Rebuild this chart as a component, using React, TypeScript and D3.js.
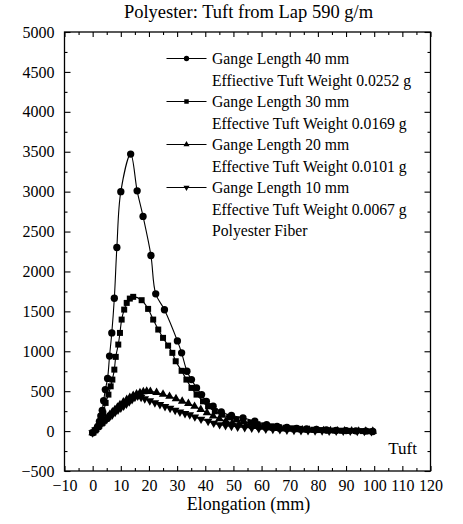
import React, { useEffect, useRef } from 'react';
import * as d3 from 'd3';

type Pt = [number, number];

// elongation (mm), force
const gl40: Pt[] = [
  [0, -20], [1, 15], [1.8, 60], [2.4, 120], [2.9, 190], [3.4, 260], [3.9, 380], [4.5, 520],
  [5.3, 660], [6.0, 940], [6.8, 1230], [7.7, 1664], [8.6, 2300], [10.0, 3000], [13.5, 3470],
  [15.8, 3010], [17.9, 2690], [20.7, 2200], [22.4, 1720], [25.5, 1520], [30.1, 1130],
  [31.6, 980], [33.5, 750], [35.1, 645], [36.9, 541], [38.7, 457], [40.4, 373], [42.8, 311],
  [45.7, 240], [49.3, 195], [53.4, 165], [57.6, 123], [61.8, 81], [65.5, 60], [69, 45],
  [72.5, 35], [76, 27], [79.5, 20], [83, 14], [86.5, 10], [90, 6], [93.5, 3], [97, 0], [99.5, -5],
];

const gl30: Pt[] = [
  [0, -20], [1, 10], [2, 50], [3, 120], [3.8, 220], [4.6, 353], [5.6, 457], [6.4, 561],
  [7.0, 645], [7.7, 770], [8.2, 930], [9.1, 1084], [9.7, 1230], [10.3, 1397], [11.2, 1522],
  [12.1, 1606], [13.2, 1660], [14.4, 1682], [17.4, 1640], [19.7, 1531], [21.5, 1397],
  [23.3, 1272], [25.0, 1168], [26.8, 1071], [28.3, 980], [29.5, 875], [31.6, 755], [33.3, 645],
  [35.1, 541], [36.9, 457], [39.2, 373], [41.0, 311], [43.4, 248], [46, 205], [48.5, 172],
  [51, 145], [53.5, 122], [56, 102], [58.5, 86], [61, 72], [63.5, 60], [66, 50], [68.5, 42],
  [71, 35], [73.5, 28], [76, 22], [78.5, 17], [81, 13], [83.5, 10], [86, 7], [88.5, 5],
  [91, 3], [93.5, 1], [96, 0], [98.5, -3],
];

const gl20: Pt[] = [
  [0, -20], [1, 20], [2, 60], [3.2, 100], [4.4, 144], [5.3, 175], [6.1, 207], [7, 240],
  [7.9, 269], [8.8, 300], [9.7, 332], [10.9, 365], [12.1, 395], [13.2, 420], [14.4, 445],
  [15.6, 465], [16.8, 480], [18, 492], [19.2, 500], [20.5, 497], [22.7, 484], [25, 462],
  [27.3, 435], [29.6, 405], [31.8, 375], [34, 345], [36.2, 310], [38.4, 270], [40.6, 230],
  [42.8, 190], [45, 155], [47.3, 125], [49.6, 102], [52, 85], [54.5, 70], [57, 58], [59.5, 48],
  [62, 40], [64.5, 33], [67, 27], [69.5, 22], [72, 18], [74.5, 14], [77, 11], [79.5, 8],
  [82, 6], [84.5, 4], [87, 3], [89.5, 2], [92, 1], [94.5, 0], [97, 0], [99.5, -3],
];

const gl10: Pt[] = [
  [0, -20], [1, 15], [2, 45], [3, 80], [4, 110], [5, 145], [6, 175], [7, 205], [8, 235],
  [9, 265], [10, 290], [11, 315], [12, 340], [13, 368], [14, 395], [15, 425], [16, 440],
  [17.2, 425], [18.5, 405], [20.3, 380], [22.1, 355], [23.9, 333], [25.7, 308], [27.5, 285],
  [29.3, 260], [31, 238], [32.8, 220], [34.5, 205], [36.3, 178], [38.5, 150], [41, 123],
  [43, 100], [45.1, 81], [47.2, 70], [49.3, 60], [51.5, 52], [54, 45], [56.5, 38], [59, 32],
  [61.5, 27], [64, 22], [66.5, 18], [69, 14], [71.5, 11], [74, 8], [76.5, 6], [79, 4],
  [81.5, 3], [84, 2], [86.5, 1], [89, 0], [91.5, 0], [94, -2], [96.5, -3], [99, -5],
];

const legendLabels = [
  ['Gange Length 40 mm', 'Effiective Tuft Weight 0.0252 g'],
  ['Gange Length 30 mm', 'Effective Tuft Weight 0.0169 g'],
  ['Gange Length 20 mm', 'Effective Tuft Weight 0.0101 g'],
  ['Gange Length 10 mm', 'Effective Tuft Weight 0.0067 g'],
];

const xMajor = d3.range(-10, 121, 10);
const xMinor = d3.range(-5, 120, 10);
const yMajor = d3.range(-500, 5001, 500);
const yMinor = d3.range(-250, 5000, 500);

const W = 463;
const H = 524;
const FONT = '"Liberation Serif", "Times New Roman", serif';

const App: React.FC = () => {
  const svgRef = useRef<SVGSVGElement>(null);

  useEffect(() => {
    if (!svgRef.current) return;
    const svg = d3.select(svgRef.current);
    svg.selectAll('*').remove();

    const left = 64.5, right = 430.5, top = 32, bottom = 471;

    const x = d3.scaleLinear().domain([-10, 120]).range([left, right]);
    const y = d3.scaleLinear().domain([-500, 5000]).range([bottom, top]);
    const fmt = d3.format('d');

    // title
    svg.append('text')
      .attr('x', (left + right) / 2 + 1).attr('y', 18)
      .attr('text-anchor', 'middle')
      .attr('font-family', FONT).attr('font-size', '18.5px')
      .text('Polyester: Tuft from Lap 590 g/m');

    // inward ticks on all sides
    const styleAxis = (g: d3.Selection<SVGGElement, unknown, null, undefined>) => {
      g.select('.domain').remove();
      g.selectAll('line').attr('stroke', '#000').attr('stroke-width', 1.1);
      g.selectAll('text').attr('fill', '#000');
      g.attr('font-family', FONT).attr('font-size', '16px');
    };

    svg.append('g').attr('transform', `translate(${left},0)`)
      .call(d3.axisLeft(y).tickValues(yMajor).tickSize(-6).tickPadding(10).tickFormat(d => fmt(d as number)))
      .call(styleAxis);
    svg.append('g').attr('transform', `translate(${left},0)`)
      .call(d3.axisLeft(y).tickValues(yMinor).tickSize(-3).tickFormat(() => ''))
      .call(styleAxis);
    svg.append('g').attr('transform', `translate(${right},0)`)
      .call(d3.axisRight(y).tickValues(yMajor).tickSize(-6).tickFormat(() => ''))
      .call(styleAxis);
    svg.append('g').attr('transform', `translate(${right},0)`)
      .call(d3.axisRight(y).tickValues(yMinor).tickSize(-3).tickFormat(() => ''))
      .call(styleAxis);

    svg.append('g').attr('transform', `translate(0,${bottom})`)
      .call(d3.axisBottom(x).tickValues(xMajor).tickSize(-5).tickPadding(9).tickFormat(d => fmt(d as number)))
      .call(styleAxis);
    svg.append('g').attr('transform', `translate(0,${bottom})`)
      .call(d3.axisBottom(x).tickValues(xMinor).tickSize(-3).tickFormat(() => ''))
      .call(styleAxis);
    svg.append('g').attr('transform', `translate(0,${top})`)
      .call(d3.axisTop(x).tickValues(xMajor).tickSize(-5).tickFormat(() => ''))
      .call(styleAxis);
    svg.append('g').attr('transform', `translate(0,${top})`)
      .call(d3.axisTop(x).tickValues(xMinor).tickSize(-3).tickFormat(() => ''))
      .call(styleAxis);

    // frame
    svg.append('rect')
      .attr('x', left).attr('y', top)
      .attr('width', right - left).attr('height', bottom - top)
      .attr('fill', 'none').attr('stroke', '#000').attr('stroke-width', 1.3);

    // axis title
    svg.append('text')
      .attr('x', (left + right) / 2 + 1).attr('y', 510)
      .attr('text-anchor', 'middle')
      .attr('font-family', FONT).attr('font-size', '18px')
      .text('Elongation (mm)');

    svg.append('text')
      .attr('x', 417).attr('y', 454)
      .attr('text-anchor', 'end')
      .attr('font-family', FONT).attr('font-size', '17px')
      .text('Tuft');

    const line = d3.line<Pt>()
      .x(d => x(d[0]))
      .y(d => y(d[1]))
      .curve(d3.curveCatmullRom.alpha(0.5));

    const series = [
      { data: gl40, symbol: d3.symbolCircle, size: 42, rotate: 0 },
      { data: gl30, symbol: d3.symbolSquare, size: 36, rotate: 0 },
      { data: gl20, symbol: d3.symbolTriangle, size: 32, rotate: 0 },
      { data: gl10, symbol: d3.symbolTriangle, size: 32, rotate: 180 },
    ];

    const plot = svg.append('g');
    series.forEach(s => {
      plot.append('path')
        .datum(s.data)
        .attr('fill', 'none')
        .attr('stroke', '#000')
        .attr('stroke-width', 1.1)
        .attr('d', line);
      plot.append('g')
        .selectAll('path')
        .data(s.data)
        .join('path')
        .attr('transform', d => `translate(${x(d[0])},${y(d[1])}) rotate(${s.rotate})`)
        .attr('d', d3.symbol(s.symbol, s.size)())
        .attr('fill', '#000');
    });

    // legend
    const lg = svg.append('g').attr('font-family', FONT).attr('font-size', '15.7px');
    const rowH = 21.5;
    const legendSizes = [22, 20, 16, 16];
    series.forEach((s, i) => {
      const cy = 58.5 + i * 2 * rowH;
      lg.append('line')
        .attr('x1', 166.5).attr('x2', 206.5)
        .attr('y1', cy).attr('y2', cy)
        .attr('stroke', '#000').attr('stroke-width', 1.1);
      lg.append('path')
        .attr('transform', `translate(186.5,${cy}) rotate(${s.rotate})`)
        .attr('d', d3.symbol(s.symbol, legendSizes[i])())
        .attr('fill', '#000');
      lg.append('text').attr('x', 212).attr('y', cy + 5.5).text(legendLabels[i][0]);
      lg.append('text').attr('x', 212).attr('y', cy + rowH + 5.5).text(legendLabels[i][1]);
    });
    lg.append('text').attr('x', 212).attr('y', 58.5 + 8 * rowH + 5.5).text('Polyester Fiber');
  }, []);

  return (
    <svg
      ref={svgRef}
      width={W}
      height={H}
      style={{ position: 'absolute', left: 0, top: 0, background: '#fff' }}
    />
  );
};

export default App;
